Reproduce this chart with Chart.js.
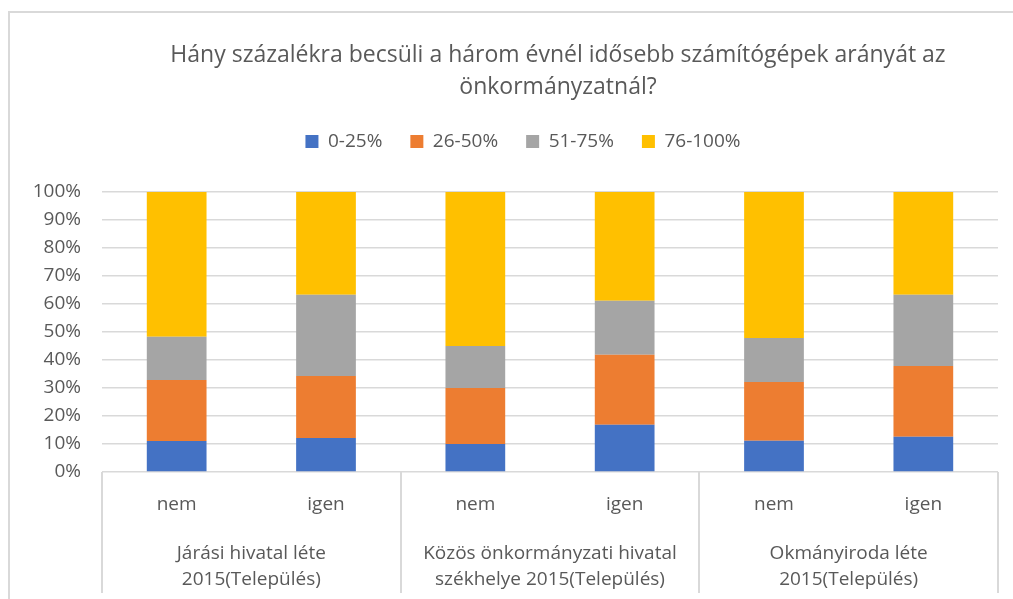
<!DOCTYPE html>
<html>
<head>
<meta charset="utf-8">
<script src="https://cdn.jsdelivr.net/npm/chart.js@4.4.0/dist/chart.umd.min.js"></script>
<style>
  body { margin: 0; background: #fff; overflow: hidden; }
  #wrap { position: relative; width: 1013px; height: 599px; }
  #frame { position: absolute; left: 8px; top: 11px; width: 1100px; height: 700px; border: 2px solid #d9d9d9; box-sizing: border-box; }
  #title { position: absolute; left: 0; top: 37px; width: 1116px; text-align: center; font: 23px "Open Sans", sans-serif; line-height: 32px; color: #595959; }
  canvas { position: absolute; left: 0; top: 0; }
</style>
</head>
<body>
<div id="wrap">
  <div id="frame"></div>
  <canvas id="myChart" width="1013" height="599"></canvas>
  <div id="title">Hány százalékra becsüli a három évnél idősebb számítógépek arányát az<br>önkormányzatnál?</div>
</div>
<script>
const categories = ['nem', 'igen', 'nem', 'igen', 'nem', 'igen'];
const groups = [
  ['Járási hivatal léte', '2015(Település)'],
  ['Közös önkormányzati hivatal', 'székhelye 2015(Település)'],
  ['Okmányiroda léte', '2015(Település)']
];
const yTicks = [0, 10, 20, 30, 40, 50, 60, 70, 80, 90, 100];

const p0_25 = [11.1, 12.1, 10.0, 16.9, 11.2, 12.6];
const p26_50 = [21.8, 22.2, 20.0, 25.0, 20.9, 25.3];
const p51_75 = [15.4, 29.0, 15.0, 19.3, 15.8, 25.4];
const p76_100 = [51.7, 36.7, 55.0, 38.8, 52.1, 36.7];

const textColor = '#595959';
const gridColor = '#d9d9d9';
const font = 'Open Sans';

// extra room under the legend, and push it a bit to the right like the original
const legendTweak = {
  id: 'legendTweak',
  beforeInit(chart) {
    const fit = chart.legend.fit;
    chart.legend.fit = function () {
      fit.call(this);
      this.height += 31;
    };
  },
  afterUpdate(chart) {
    chart.legend.left += 48;
  }
};

// vertical lines between the groups under the plot
const groupLines = {
  id: 'groupLines',
  afterDraw(chart) {
    const x = chart.scales.x;
    const c = chart.ctx;
    const w = (x.right - x.left) / groups.length;
    c.save();
    c.strokeStyle = gridColor;
    c.lineWidth = 2;
    for (let i = 0; i <= groups.length; i++) {
      const px = Math.round(x.left + i * w);
      c.beginPath();
      c.moveTo(px, chart.chartArea.bottom);
      c.lineTo(px, 593);
      c.stroke();
    }
    c.restore();
  }
};

const ctx = document.getElementById('myChart').getContext('2d');
const myChart = new Chart(ctx, {
  type: 'bar',
  data: {
    labels: categories,
    datasets: [
      { label: '0-25%', data: p0_25, backgroundColor: '#4472c4' },
      { label: '26-50%', data: p26_50, backgroundColor: '#ed7d31' },
      { label: '51-75%', data: p51_75, backgroundColor: '#a5a5a5' },
      { label: '76-100%', data: p76_100, backgroundColor: '#ffc000' }
    ]
  },
  options: {
    responsive: false,
    animation: false,
    barPercentage: 0.4,
    categoryPercentage: 1,
    layout: { padding: { left: 0, right: 15, top: 104, bottom: 6 } },
    plugins: {
      tooltip: { enabled: false },
      legend: {
        position: 'top',
        labels: {
          boxWidth: 13,
          boxHeight: 13,
          padding: 28,
          color: textColor,
          font: { family: font, size: 19 }
        }
      }
    },
    scales: {
      x: {
        stacked: true,
        grid: { display: false },
        border: { display: false },
        ticks: { color: textColor, padding: 13, font: { family: font, size: 19 } },
        afterFit(s) { s.height = 46; }
      },
      x2: {
        type: 'category',
        position: 'bottom',
        labels: groups,
        offset: true,
        grid: { display: false },
        border: { display: false },
        ticks: { color: textColor, padding: 15, font: { family: font, size: 19, lineHeight: 1.37 } },
        afterFit(s) { s.height = 75; }
      },
      y: {
        stacked: true,
        min: 0,
        max: 100,
        afterBuildTicks(s) { s.ticks = yTicks.map(v => ({ value: v })); },
        grid: { color: gridColor, lineWidth: 1.5, drawTicks: false },
        border: { display: false },
        ticks: {
          color: textColor,
          padding: 21,
          font: { family: font, size: 19 },
          callback: v => v + '%'
        },
        afterFit(s) { s.width = 102; }
      }
    }
  },
  plugins: [legendTweak, groupLines]
});
</script>
</body>
</html>
